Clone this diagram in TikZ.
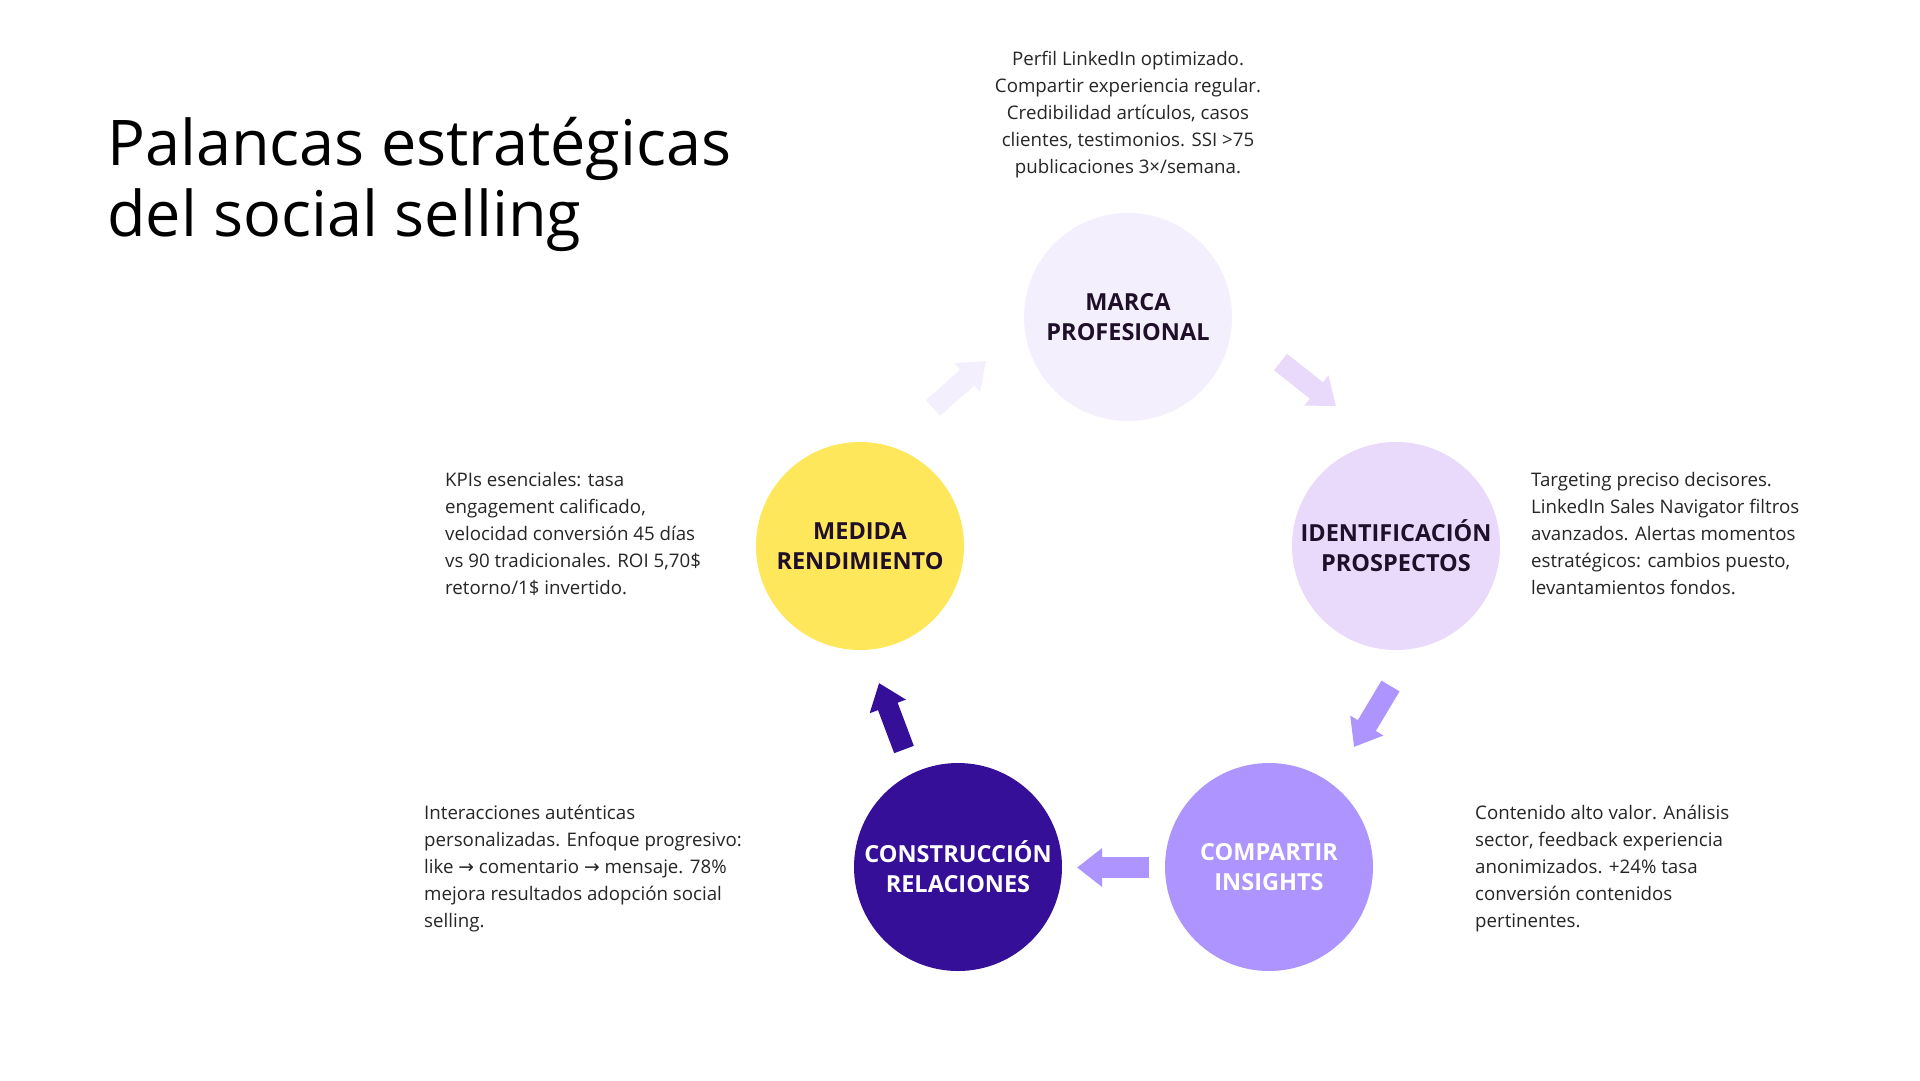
\documentclass[tikz,border=0pt]{standalone}
\usepackage{fontspec}
\setmainfont{Open Sans}
\newfontfamily\symf{DejaVu Sans}
\usetikzlibrary{arrows.meta}
\definecolor{cmar}{HTML}{F4EFFD}
\definecolor{cide}{HTML}{E9DAFB}
\definecolor{ccom}{HTML}{AE94FE}
\definecolor{ccon}{HTML}{350F98}
\definecolor{cmed}{HTML}{FEE75B}
\definecolor{dtext}{HTML}{1F0F2A}
\definecolor{btext}{HTML}{262626}
\newcommand{\rarr}{{\symf →}}
\tikzset{
  circ/.style={circle, minimum size=208pt, inner sep=-20pt, align=center,
    font=\fontsize{23.5}{30}\selectfont\bfseries, text=dtext},
  desc/.style={inner sep=0pt, align=left, anchor=base west,
    font=\fontsize{18.7}{27}\selectfont, text=btext},
  barrow/.style={line width=21pt, line cap=butt,
    -{Triangle[width=37pt,length=25pt]}}
}
\begin{document}
\begin{tikzpicture}[x=1pt,y=-1pt]
\useasboundingbox[fill=white] (0,0) rectangle (1920,1080);
% title (anchor = baseline of last line)
\node[inner sep=0pt, anchor=base west, align=left, text=black,
  font=\fontsize{63}{71}\selectfont] (title) at (107,236)
  {Palancas estratégicas\\del social selling};
% circles
\node[circ, fill=cmar] (mar) at (1128,317) {MARCA\\PROFESIONAL};
\node[circ, fill=cide] (ide) at (1396,546) {IDENTIFICACIÓN\\PROSPECTOS};
\node[circ, fill=ccom, text=white] (com) at (1269,867) {COMPARTIR\\INSIGHTS};
\node[circ, fill=ccon, text=white] (con) at (958,867) {CONSTRUCCIÓN\\RELACIONES};
\node[circ, fill=cmed] (med) at (860,546) {MEDIDA\\RENDIMIENTO};
% descriptions (anchor = baseline of last line)
\node[desc, align=center, anchor=base] (dmar) at (1128,173)
  {Perfil LinkedIn optimizado.\\Compartir experiencia regular.\\Credibilidad artículos, casos\\clientes, testimonios. SSI >75\\publicaciones 3×/semana.};
\node[desc] (dide) at (1531,594)
  {Targeting preciso decisores.\\LinkedIn Sales Navigator filtros\\avanzados. Alertas momentos\\estratégicos: cambios puesto,\\levantamientos fondos.};
\node[desc] (dcom) at (1475,927)
  {Contenido alto valor. Análisis\\sector, feedback experiencia\\anonimizados. +24\% tasa\\conversión contenidos\\pertinentes.};
\node[desc] (dcon) at (424,927)
  {Interacciones auténticas\\personalizadas. Enfoque progresivo:\\like \rarr{} comentario \rarr{} mensaje. 78\%\\mejora resultados adopción social\\selling.};
\node[desc] (dmed) at (445,594)
  {KPIs esenciales: tasa\\engagement calificado,\\velocidad conversión 45 días\\vs 90 tradicionales. ROI 5,70\$\\retorno/1\$ invertido.};
% arrow end points
\coordinate (a1s) at (933,408);  \coordinate (a1e) at (986,361);
\coordinate (a2s) at (1280.5,362); \coordinate (a2e) at (1336,406);
\coordinate (a3s) at (1390.5,686); \coordinate (a3e) at (1354,747);
\coordinate (a4s) at (1149,867.5); \coordinate (a4e) at (1077,867.5);
\coordinate (a5s) at (904,749.5); \coordinate (a5e) at (879,683);
\draw[barrow, draw=cmar, fill=cmar] (a1s) -- (a1e);
\draw[barrow, draw=cide, fill=cide] (a2s) -- (a2e);
\draw[barrow, draw=ccom, fill=ccom] (a3s) -- (a3e);
\draw[barrow, draw=ccom, fill=ccom] (a4s) -- (a4e);
\draw[barrow, draw=ccon, fill=ccon] (a5s) -- (a5e);
\end{tikzpicture}
\end{document}
